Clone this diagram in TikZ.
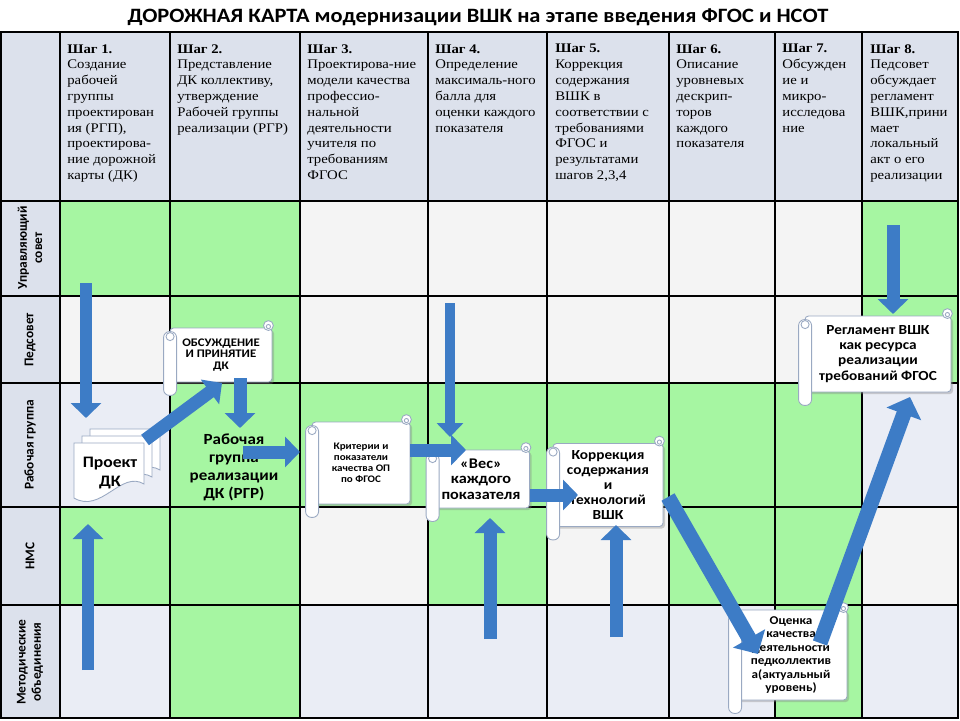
\documentclass[tikz,border=0pt]{standalone}
\usepackage{fontspec}
\setmainfont{Liberation Serif}
\newfontfamily\hdrfont[FakeStretch=1.12]{Liberation Serif}
\newfontfamily\clb[FakeStretch=1.1]{Carlito}
\newfontfamily\clbn{Carlito}
\usetikzlibrary{arrows.meta,shadows,calc}
\definecolor{grn}{HTML}{A6F6A2}
\definecolor{wht}{HTML}{F4F4F4}
\definecolor{blg}{HTML}{EAEDF5}
\definecolor{hdr}{HTML}{DCE1EC}
\definecolor{arw}{HTML}{3D7CC6}
\definecolor{scl}{HTML}{9AA9C2}
\begin{document}
\begin{tikzpicture}[x=0.02cm,y=-0.02cm,
  gridline/.style={line width=0.7pt, draw=black},
  hdrtext/.style={anchor=north west, inner sep=0pt, align=left, font=\hdrfont\fontsize{7.5}{9.0}\selectfont},
  rowlab/.style={rotate=90, align=center, inner sep=0pt, font=\clbn\bfseries\fontsize{7.6}{8.6}\selectfont},
  scrollbox/.style={draw=scl, line width=0.5pt, fill=white, rounded corners=2pt, inner sep=0pt, align=center,
    drop shadow={opacity=0.35, shadow xshift=1.2pt, shadow yshift=-1.2pt}},
  scrollpart/.style={draw=scl, line width=0.5pt, fill=white},
  barrow/.style={draw=arw, line width=0.26cm, -{Triangle[width=0.6cm,length=0.3cm]}},
  tarrow/.style={draw=arw, line width=0.21cm, -{Triangle[width=0.52cm,length=0.28cm]}},
  darrow/.style={draw=arw, line width=0.3cm, -{Triangle[width=0.72cm,length=0.36cm]}},
  page/.style={draw=scl, line width=0.5pt, fill=white}
]
\useasboundingbox (0,0) rectangle (960,720);
\fill[white] (0,0) rectangle (960,720);

% title
\node[font=\clb\bfseries\fontsize{11.6}{14}\selectfont, inner sep=0pt] (title) at (478,17)
  {ДОРОЖНАЯ КАРТА модернизации ВШК на этапе введения ФГОС и НСОТ};

% table fills
\fill[hdr] (1,32) rectangle (958,201);
\fill[hdr] (1,201) rectangle (60,718);
\foreach \xa/\xb/\ya/\yb/\c in {
 60/170/201/296/grn, 170/300/201/296/grn, 300/862/201/296/wht, 862/958/201/296/grn,
 60/170/296/383/wht, 170/300/296/383/grn, 300/862/296/383/wht, 862/958/296/383/grn,
 60/170/383/507/blg, 170/862/383/507/grn, 862/958/383/507/blg,
 60/300/507/605/grn, 300/428/507/605/wht, 428/547/507/605/grn, 547/669/507/605/wht, 669/862/507/605/grn, 862/958/507/605/wht,
 60/170/605/718/blg, 170/300/605/718/grn, 300/775/605/718/blg, 775/862/605/718/grn, 862/958/605/718/blg}
 {\fill[\c] (\xa,\ya) rectangle (\xb,\yb);}
\foreach \x in {60,170,300,428,547,669,775,862} \draw[gridline] (\x,32) -- (\x,718);
\foreach \y in {201,296,383,507,605} \draw[gridline] (1,\y) -- (958,\y);
\draw[gridline, line width=1pt] (1,32) rectangle (958,718);

% header texts
\node[hdrtext] (h1) at (67,44) {\textbf{Шаг 1.}\\Создание\\рабочей\\группы\\проектирован\\ия (РГП),\\проектирова-\\ние дорожной\\карты (ДК)};
\node[hdrtext] (h2) at (177,44) {\textbf{Шаг 2.}\\Представление\\ДК коллективу,\\утверждение\\Рабочей группы\\реализации (РГР)};
\node[hdrtext] (h3) at (307,44) {\textbf{Шаг 3.}\\Проектирова-ние\\модели качества\\профессио-\\нальной\\деятельности\\учителя по\\требованиям\\ФГОС};
\node[hdrtext] (h4) at (435,44) {\textbf{Шаг 4.}\\Определение\\максималь-ного\\балла для\\оценки каждого\\показателя};
\node[hdrtext] (h5) at (555,44) {\textbf{Шаг 5.}\\Коррекция\\содержания\\ВШК в\\соответствии с\\требованиями\\ФГОС и\\результатами\\шагов 2,3,4};
\node[hdrtext] (h6) at (676,44) {\textbf{Шаг 6.}\\Описание\\уровневых\\дескрип-\\торов\\каждого\\показателя};
\node[hdrtext] (h7) at (782,44) {\textbf{Шаг 7.}\\Обсужден\\ие и\\микро-\\исследова\\ние};
\node[hdrtext] (h8) at (870,44) {\textbf{Шаг 8.}\\Педсовет\\обсуждает\\регламент\\ВШК,прини\\мает\\локальный\\акт о его\\реализации};

% row labels
\node[rowlab] (r1) at (30,248) {Управляющий\\совет};
\node[rowlab] (r2) at (30,340) {Педсовет};
\node[rowlab] (r3) at (30,445) {Рабочая группа};
\node[rowlab] (r4) at (30,556) {НМС};
\node[rowlab] (r5) at (30,662) {Методические\\объединения};

% Проект ДК (multi-document)
\foreach \dx/\dy in {16/-14, 8/-7, 0/0}{
  \draw[page, shift={(\dx,\dy)}] (74,443) -- (144,443) -- (144,484)
     .. controls (121,470) and (101,514) .. (74,498) -- cycle;
}
\node[font=\clb\bfseries\fontsize{9.1}{10.4}\selectfont, align=center, inner sep=0pt] (proekt) at (110,473) {Проект\\ДК};

% Рабочая группа реализации
\node[font=\clb\bfseries\fontsize{8.8}{10.2}\selectfont, align=center, inner sep=0pt] (rgr) at (234,467) {Рабочая\\группа\\реализации\\ДК (РГР)};

% scroll boxes
\node[scrollbox, minimum width=2.04cm, minimum height=1.08cm, font=\clb\bfseries\fontsize{6.6}{6.6}\selectfont] (obs) at (221,355) {ОБСУЖДЕНИЕ\\И ПРИНЯТИЕ\\ДК};
\node[scrollbox, minimum width=1.96cm, minimum height=1.64cm, font=\clb\bfseries\fontsize{5.7}{6.3}\selectfont] (krit) at (361,463) {Критерии и\\показатели\\качества ОП\\по ФГОС};
\node[scrollbox, minimum width=1.94cm, minimum height=1.16cm, font=\clb\bfseries\fontsize{8.4}{8.8}\selectfont] (ves) at (481,479) {«Вес»\\каждого\\показателя};
\node[scrollbox, minimum width=2.2cm, minimum height=1.66cm, font=\clb\bfseries\fontsize{7.9}{8.5}\selectfont] (korr) at (608,485) {Коррекция\\содержания\\и\\технологий\\ВШК};
\node[scrollbox, minimum width=2.92cm, minimum height=1.52cm, font=\clb\bfseries\fontsize{7.9}{8.6}\selectfont] (regl) at (878,354) {Регламент ВШК\\как ресурса\\реализации\\требований ФГОС};
\node[scrollbox, minimum width=2.24cm, minimum height=1.8cm, font=\clb\bfseries\fontsize{6.8}{7.6}\selectfont] (ocen) at (791,655) {Оценка\\качества\\деятельности\\педколлектив\\а(актуальный\\уровень)};

\foreach \n in {obs,krit,ves,korr,regl,ocen}{
  \draw[scrollpart, rounded corners=3.4pt] ($(\n.north west)+(-6,4)$) rectangle ($(\n.south west)+(7,13)$);
  \draw[scrollpart] ($(\n.north west)+(0.5,9)$) circle[radius=2.3pt];
  \draw[scrollpart] ($(\n.north east)+(-4,-2)$) circle[radius=2.8pt];
  \draw[scrollpart] ($(\n.north east)+(-4,-1)$) circle[radius=1.2pt];
}

% arrows
\coordinate (a1s) at (86,283);  \coordinate (a1e) at (86,418);
\coordinate (a2s) at (145,440); \coordinate (a2e) at (222,383);
\coordinate (a3s) at (240,378); \coordinate (a3e) at (240,428);
\coordinate (a4s) at (243,452); \coordinate (a4e) at (300,452);
\coordinate (a5s) at (410,450); \coordinate (a5e) at (466,450);
\coordinate (a6s) at (450,303); \coordinate (a6e) at (450,437);
\coordinate (a7s) at (530,495); \coordinate (a7e) at (578,495);
\coordinate (a8s) at (490,639); \coordinate (a8e) at (490,518);
\coordinate (a9s) at (88,670);  \coordinate (a9e) at (88,524);
\coordinate (a10s) at (616,637); \coordinate (a10e) at (616,525);
\coordinate (a11s) at (668,497); \coordinate (a11e) at (758,654);
\coordinate (a12s) at (820,643); \coordinate (a12e) at (910,397);
\coordinate (a13s) at (893,225); \coordinate (a13e) at (893,314);

\draw[barrow] (a1s) -- (a1e);
\draw[barrow] (a2s) -- (a2e);
\draw[barrow] (a3s) -- (a3e);
\draw[barrow] (a4s) -- (a4e);
\draw[barrow] (a5s) -- (a5e);
\draw[tarrow] (a6s) -- (a6e);
\draw[barrow] (a7s) -- (a7e);
\draw[barrow] (a8s) -- (a8e);
\draw[barrow] (a9s) -- (a9e);
\draw[barrow] (a10s) -- (a10e);
\draw[darrow] (a11s) -- (a11e);
\draw[darrow] (a12s) -- (a12e);
\draw[barrow] (a13s) -- (a13e);
\end{tikzpicture}
\end{document}
